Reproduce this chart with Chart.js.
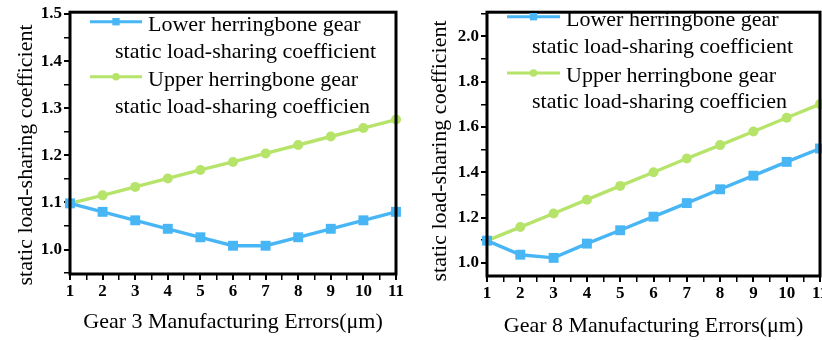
<!DOCTYPE html>
<html>
<head>
<meta charset="utf-8">
<script src="https://cdn.jsdelivr.net/npm/chart.js@4.4.1/dist/chart.umd.min.js"></script>
<style>
html,body{margin:0;padding:0;background:#fff;overflow:hidden;width:822px;height:340px}
canvas{position:absolute;top:0}
#left{left:0}
#right{left:411px}
</style>
</head>
<body>
<canvas id="left" width="411" height="340"></canvas>
<canvas id="right" width="420" height="340"></canvas>
<script>
// manufacturing error (um) on x
const errors = [1, 2, 3, 4, 5, 6, 7, 8, 9, 10, 11];

// gear 3 panel
const gear3Lower = [1.098, 1.080, 1.062, 1.044, 1.026, 1.008, 1.008, 1.026, 1.044, 1.062, 1.080];
const gear3Upper = [1.098, 1.115, 1.133, 1.151, 1.169, 1.186, 1.204, 1.222, 1.240, 1.258, 1.276];

// gear 8 panel
const gear8Lower = [1.098, 1.036, 1.022, 1.085, 1.144, 1.204, 1.264, 1.325, 1.385, 1.446, 1.505];
const gear8Upper = [1.098, 1.158, 1.218, 1.279, 1.340, 1.400, 1.461, 1.520, 1.580, 1.641, 1.701];

const legendLines = ["Lower herringbone gear", "static load-sharing coefficient",
                     "Upper herringbone gear", "static load-sharing coefficien"];
const yTitle = "static load-sharing coefficient";
const gear3Title = "Gear 3 Manufacturing Errors(\u03bcm)";
const gear8Title = "Gear 8 Manufacturing Errors(\u03bcm)";

const blue = 'rgb(72,182,245)';
const green = 'rgb(182,228,106)';
const serif = '"Liberation Serif", "Times New Roman", serif';

function marker(ctx, style, r, x, y, color) {
  ctx.fillStyle = color;
  ctx.beginPath();
  if (style === 'rect') {
    let s = r * Math.SQRT1_2;
    ctx.rect(x - s, y - s, 2 * s, 2 * s);
  } else {
    ctx.arc(x, y, r, 0, Math.PI * 2);
  }
  ctx.fill();
}

const framePlugin = {
  id: 'frameLegend',
  afterDraw(chart, args, opts) {
    const ctx = chart.ctx, a = chart.chartArea;
    ctx.save();
    ctx.lineWidth = 3;
    ctx.strokeStyle = '#000';
    ctx.strokeRect(a.left, a.top, a.right - a.left, a.bottom - a.top);

    // legend, two text lines per series
    const L = opts.legend;
    chart.data.datasets.forEach((ds, i) => {
      let y = L.sampleY[i];
      ctx.strokeStyle = ds.borderColor;
      ctx.lineWidth = 3;
      ctx.beginPath();
      ctx.moveTo(L.x1, y);
      ctx.lineTo(L.x2, y);
      ctx.stroke();
      marker(ctx, ds.pointStyle, ds.pointStyle === 'rect' ? 5.2 : 3.8, (L.x1 + L.x2) / 2, y, ds.borderColor);
    });
    ctx.fillStyle = '#000';
    ctx.font = '22px ' + serif;
    ctx.textBaseline = 'alphabetic';
    ctx.textAlign = 'left';
    legendLines.forEach((t, i) => ctx.fillText(t, L.text[i][0], L.text[i][1]));

    // axis titles
    ctx.textAlign = 'center';
    ctx.fillText(opts.xTitle, (a.left + a.right) / 2, opts.xTitleY);
    ctx.translate(opts.yTitleX, opts.yTitleMid);
    ctx.rotate(-Math.PI / 2);
    ctx.textBaseline = 'middle';
    ctx.fillText(yTitle, 0, 0);
    ctx.restore();
  }
};

function makeChart(id, lower, upper, cfg) {
  const tickFont = {family: serif, size: 17, weight: 'bold'};
  return new Chart(document.getElementById(id), {
    type: 'line',
    data: {
      datasets: [
        {
          label: legendLines[0],
          data: errors.map((x, i) => ({x: x, y: lower[i]})),
          borderColor: blue, backgroundColor: blue,
          borderWidth: 3.4, pointStyle: 'rect', pointRadius: 7,
          pointBorderWidth: 0, pointBackgroundColor: blue, clip: false
        },
        {
          label: legendLines[2],
          data: errors.map((x, i) => ({x: x, y: upper[i]})),
          borderColor: green, backgroundColor: green,
          borderWidth: 3.4, pointStyle: 'circle', pointRadius: 5,
          pointBorderWidth: 0, pointBackgroundColor: green, clip: false
        }
      ]
    },
    options: {
      responsive: false,
      animation: false,
      layout: {padding: cfg.padding},
      plugins: {
        legend: {display: false},
        tooltip: {enabled: false},
        frameLegend: cfg.deco
      },
      scales: {
        x: {
          type: 'linear', min: 1, max: 11,
          afterFit: s => { s.height = cfg.xHeight; },
          border: {display: false},
          grid: {drawOnChartArea: false, tickLength: 6, color: '#000',
                 lineWidth: c => (c.tick && Number.isInteger(c.tick.value)) ? 2 : 1.5},
          ticks: {stepSize: 0.5, autoSkip: false, maxRotation: 0, padding: 1,
                  color: '#000', font: tickFont,
                  callback: v => Number.isInteger(v) ? String(v) : ''}
        },
        y: {
          type: 'linear', min: cfg.yMin, max: cfg.yMax,
          afterFit: s => { s.width = cfg.yWidth; },
          border: {display: false},
          grid: {drawOnChartArea: false, tickLength: 6, color: '#000',
                 lineWidth: c => (c.tick && Math.round(c.tick.value / cfg.yStep) % 2 === 0) ? 2 : 1.5},
          ticks: {stepSize: cfg.yStep, autoSkip: false, includeBounds: false, padding: 2,
                  color: '#000', font: tickFont,
                  callback: v => (Math.round(v / cfg.yStep) % 2 === 0) ? v.toFixed(1) : ''}
        }
      }
    },
    plugins: [framePlugin]
  });
}

makeChart('left', gear3Lower, gear3Upper, {
  padding: {top: 10, right: 15, left: 0, bottom: 0},
  xHeight: 66, yWidth: 70,
  yMin: 0.948, yMax: 1.504, yStep: 0.05,
  deco: {
    xTitle: gear3Title, xTitleY: 328, yTitleX: 26, yTitleMid: 155,
    legend: {x1: 90, x2: 142, sampleY: [21.7, 76.7],
             text: [[148, 31], [115, 58], [148, 86], [115, 113]]}
  }
});

makeChart('right', gear8Lower, gear8Upper, {
  padding: {top: 4, right: 11, left: 0, bottom: 0},
  xHeight: 64, yWidth: 76,
  yMin: 0.942, yMax: 2.107, yStep: 0.1,
  deco: {
    xTitle: gear8Title, xTitleY: 332, yTitleX: 29, yTitleMid: 151,
    legend: {x1: 96, x2: 149, sampleY: [16.7, 73],
             text: [[155, 26], [121, 53], [155, 82], [121, 108]]}
  }
});
</script>
</body>
</html>
